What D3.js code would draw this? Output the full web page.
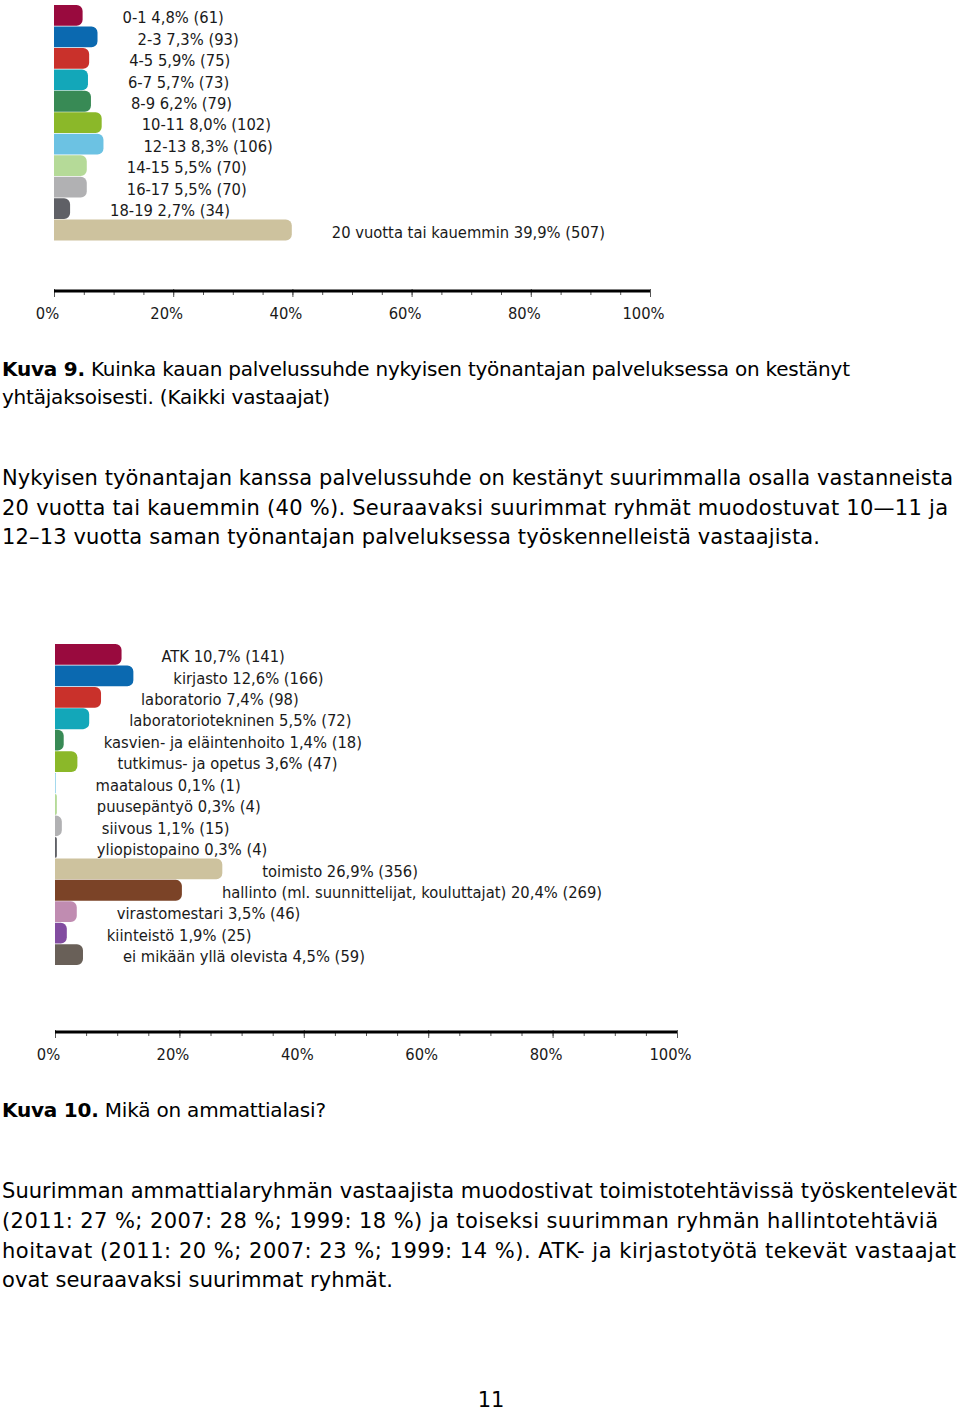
<!DOCTYPE html>
<html>
<head>
<meta charset="utf-8">
<script src="https://cdn.jsdelivr.net/npm/d3@7"></script>
<style>
  body { margin: 0; background: #fff; }
  svg { display: block; }
</style>
</head>
<body>
<div id="page"></div>
<script>
// palvelusvuodet (Kuva 9)
const yearCats = ['0-1', '2-3', '4-5', '6-7', '8-9', '10-11', '12-13', '14-15', '16-17', '18-19', '20 vuotta tai kauemmin'];
const yearPct = [4.8, 7.3, 5.9, 5.7, 6.2, 8.0, 8.3, 5.5, 5.5, 2.7, 39.9];
const yearN = [61, 93, 75, 73, 79, 102, 106, 70, 70, 34, 507];

// ammattiala (Kuva 10)
const fieldCats = ['ATK', 'kirjasto', 'laboratorio', 'laboratoriotekninen', 'kasvien- ja eläintenhoito',
    'tutkimus- ja opetus', 'maatalous', 'puusepäntyö', 'siivous', 'yliopistopaino', 'toimisto',
    'hallinto (ml. suunnittelijat, kouluttajat)', 'virastomestari', 'kiinteistö', 'ei mikään yllä olevista'];
const fieldPct = [10.7, 12.6, 7.4, 5.5, 1.4, 3.6, 0.1, 0.3, 1.1, 0.3, 26.9, 20.4, 3.5, 1.9, 4.5];
const fieldN = [141, 166, 98, 72, 18, 47, 1, 4, 15, 4, 356, 269, 46, 25, 59];

const ticks = [0, 20, 40, 60, 80, 100];
const minorTicks = d3.range(0, 101, 5);

const palette = ['#990a3e', '#0b69b0', '#c9312b', '#13a7b9', '#388a55', '#8bb829', '#6cc2e3',
    '#b5da98', '#b1b1b3', '#5f6066', '#cdc29e', '#7b4327', '#c08cb1', '#824ca0', '#696058'];
const yearColors = palette.slice(0, 11);
const fieldColors = palette.slice(0, 15);

const fmt = v => d3.format('.1f')(v).replace('.', ',');
const labelFont = '"DejaVu Sans Condensed", "DejaVu Sans", sans-serif';
const textFont = '"DejaVu Sans", Verdana, sans-serif';

const svg = d3.select('#page').append('svg')
    .attr('width', 960)
    .attr('height', 1413);

// bar with rounded right end
function barPath(x0, x1, y, h, r) {
    const w = x1 - x0;
    r = Math.min(r, w, h / 2);
    const p = d3.path();
    p.moveTo(x0, y);
    p.lineTo(x1 - r, y);
    p.arcTo(x1, y, x1, y + r, r);
    p.lineTo(x1, y + h - r);
    p.arcTo(x1, y + h, x1 - r, y + h, r);
    p.lineTo(x0, y + h);
    p.closePath();
    return p.toString();
}

function drawChart(opt) {
    const { cats, pct, n, colors, xRange, yTop, step, axisY } = opt;
    const g = svg.append('g');

    const x = d3.scaleLinear().domain([0, 100]).range(xRange);
    const y = d3.scaleBand()
        .domain(cats)
        .range([yTop, yTop + cats.length * step])
        .paddingInner(0.03);

    const rows = cats.map((c, i) => ({ cat: c, pct: pct[i], n: n[i], color: colors[i] }));

    g.selectAll('path.bar')
        .data(rows)
      .enter().append('path')
        .attr('class', 'bar')
        .attr('d', d => barPath(x(0), x(d.pct), y(d.cat), y.bandwidth(), 6))
        .attr('fill', d => d.color);

    g.selectAll('text.lbl')
        .data(rows)
      .enter().append('text')
        .attr('class', 'lbl')
        .attr('x', d => x(d.pct) + 40)
        .attr('y', d => y(d.cat) + y.bandwidth() / 2 + 2)
        .attr('dy', '0.35em')
        .style('font-family', labelFont)
        .style('font-size', '16.4px')
        .attr('fill', '#1a1a1a')
        .text(d => `${d.cat} ${fmt(d.pct)}% (${d.n})`);

    // axis: minor ticks every 5 %, labels every 20 %
    const ax = g.append('g').attr('transform', `translate(0, ${axisY})`);
    ax.call(d3.axisBottom(x).tickValues(minorTicks).tickSize(4).tickFormat(''))
        .call(a => a.select('.domain').remove())
        .call(a => a.selectAll('line').attr('stroke', '#555'));
    ax.append('g')
        .call(d3.axisBottom(x).tickValues(ticks).tickSize(6).tickPadding(10).tickFormat(d => d + '%'))
        .call(a => a.select('.domain').remove())
        .call(a => a.selectAll('line').attr('stroke', '#555').attr('y1', -2))
        .call(a => a.selectAll('text')
            .attr('dx', -7)
            .style('font-family', labelFont)
            .style('font-size', '16.4px')
            .attr('fill', '#1a1a1a'));
    ax.append('line')
        .attr('x1', xRange[0])
        .attr('x2', xRange[1])
        .attr('stroke', '#000')
        .attr('stroke-width', 3);
}

drawChart({ cats: yearCats, pct: yearPct, n: yearN, colors: yearColors,
    xRange: [54, 650], yTop: 5, step: 21.4, axisY: 291 });
drawChart({ cats: fieldCats, pct: fieldPct, n: fieldN, colors: fieldColors,
    xRange: [55, 677], yTop: 644, step: 21.4, axisY: 1032 });

// captions and body text; each line stretched to the width it has in the layout
function caption(yPos, bold, rest, width) {
    const t = svg.append('text')
        .attr('x', 2)
        .attr('y', yPos)
        .attr('dy', '0.35em')
        .attr('textLength', width)
        .attr('lengthAdjust', 'spacing')
        .style('font-family', textFont)
        .style('font-size', '20px')
        .attr('fill', '#000');
    if (bold) t.append('tspan').style('font-weight', 'bold').text(bold);
    t.append('tspan').text(rest);
}

function para(lines, widths, yStart, lh) {
    svg.append('g').selectAll('text')
        .data(lines)
      .enter().append('text')
        .attr('x', 2)
        .attr('y', (d, i) => yStart + i * lh)
        .attr('dy', '0.35em')
        .attr('textLength', (d, i) => widths[i])
        .attr('lengthAdjust', 'spacing')
        .style('font-family', textFont)
        .style('font-size', '21px')
        .attr('fill', '#000')
        .text(d => d);
}

caption(369, 'Kuva 9.', ' Kuinka kauan palvelussuhde nykyisen työnantajan palveluksessa on kestänyt', 848);
caption(397, null, 'yhtäjaksoisesti. (Kaikki vastaajat)', 328);

para([
    'Nykyisen työnantajan kanssa palvelussuhde on kestänyt suurimmalla osalla vastanneista',
    '20 vuotta tai kauemmin (40 %). Seuraavaksi suurimmat ryhmät muodostuvat 10\u201411 ja',
    '12\u201313 vuotta saman työnantajan palveluksessa työskennelleistä vastaajista.'
], [951, 946, 818], 478, 29.5);

caption(1110, 'Kuva 10.', ' Mikä on ammattialasi?', 324);

para([
    'Suurimman ammattialaryhmän vastaajista muodostivat toimistotehtävissä työskentelevät',
    '(2011: 27 %; 2007: 28 %; 1999: 18 %) ja toiseksi suurimman ryhmän hallintotehtäviä',
    'hoitavat (2011: 20 %; 2007: 23 %; 1999: 14 %). ATK- ja kirjastotyötä tekevät vastaajat',
    'ovat seuraavaksi suurimmat ryhmät.'
], [955, 936, 954, 391], 1191, 29.7);

svg.append('text')
    .attr('x', 491)
    .attr('y', 1400)
    .attr('dy', '0.35em')
    .attr('text-anchor', 'middle')
    .style('font-family', textFont)
    .style('font-size', '21px')
    .text('11');
</script>
</body>
</html>
